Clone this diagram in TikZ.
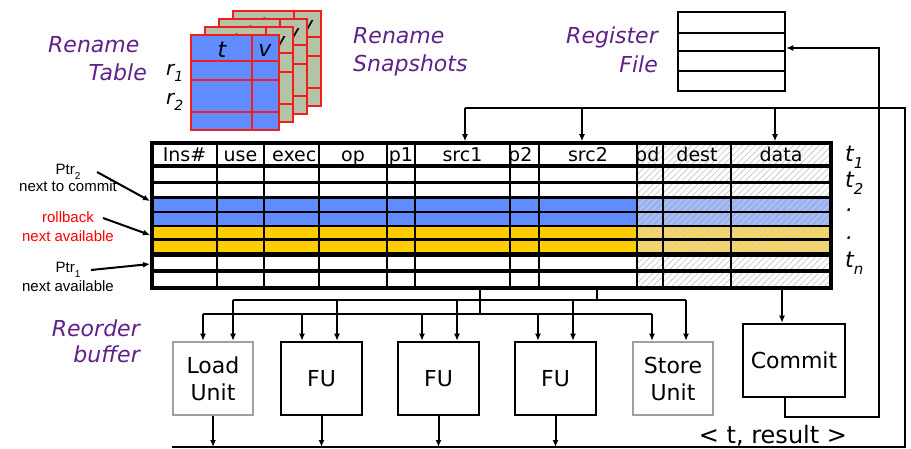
\documentclass[tikz,border=0pt]{standalone}
\usepackage{fontspec}
\setmainfont{DejaVu Sans}
\newfontfamily\arialf{Liberation Sans}
\usetikzlibrary{arrows.meta,patterns.meta,calc}
\definecolor{purp}{RGB}{96,32,140}
\definecolor{robblue}{RGB}{96,140,255}
\definecolor{robyellow}{RGB}{255,204,0}
\definecolor{hblue}{RGB}{150,178,250}
\definecolor{hyellow}{RGB}{250,214,90}
\definecolor{snapg}{RGB}{180,194,166}
\definecolor{unitgray}{RGB}{160,160,160}
\definecolor{rnred}{RGB}{240,30,30}
\newcommand{\fs}[2]{\fontsize{#1}{#2}\selectfont}
\newcommand{\sbs}[2]{\raisebox{-0.3em}{\fontsize{#1}{#1}\selectfont #2}}
\tikzset{
  conn/.style={line width=2pt},
  arr/.style={line width=2pt, -{Latex[length=7pt,width=6pt]}},
  lbl/.style={text=purp, font=\fs{22}{26}\itshape, inner sep=0},
  ital/.style={font=\fs{22}{26}\itshape, inner sep=0},
  unit/.style={draw, line width=2.5pt, minimum width=80pt, minimum height=73pt, inner sep=0, align=center, font=\fs{22}{27}},
  hd/.style={font=\fs{19}{22}, inner sep=0, anchor=base},
  ptr/.style={font=\arialf\fs{15}{18}, inner sep=0, anchor=base},
  hatch/.style={pattern={Lines[angle=45,distance=4.5pt,line width=0.8pt]}, pattern color=gray!40}
}
\begin{document}
\begin{tikzpicture}[x=1pt,y=-1pt]
\useasboundingbox (0,0) rectangle (911,449);

% ---------- labels ----------
\node[lbl, anchor=base west] (lRen1) at (48,53) {Rename};
\node[lbl, anchor=base east] (lTab) at (147,81) {Table};
\node[lbl, anchor=base west] (lRen2) at (353,44) {Rename};
\node[lbl, anchor=base west] (lSnap) at (353,72) {Snapshots};
\node[lbl, anchor=base east] (lReg) at (658,44) {Register};
\node[lbl, anchor=base east] (lFile) at (658,73) {File};
\node[lbl, anchor=base east] (lReo) at (140,336) {Reorder};
\node[lbl, anchor=base east] (lBuf) at (140,362) {buffer};

% ---------- rename table and snapshots ----------
\foreach \i/\dx/\dy/\fc in {3/42/-24/snapg, 2/28/-16/snapg, 1/14/-8/snapg, 0/0/0/robblue}{
  \begin{scope}[shift={(\dx,\dy)}]
    \fill[\fc] (191,35) rectangle (279,130);
    \node[ital] (rt\i) at (222,50) {t};
    \node[ital] (rv\i) at (265,50) {v};
    \draw[rnred, line width=1.5pt] (191,35) rectangle (279,130)
      (252,35) -- (252,130) (191,61) -- (279,61) (191,80) -- (279,80) (191,112) -- (279,112);
  \end{scope}
}
\node[ital, anchor=base west, font=\fs{20}{24}\itshape] (r1) at (166,76) {r\sbs{14}{1}};
\node[ital, anchor=base west, font=\fs{20}{24}\itshape] (r2) at (166,105) {r\sbs{14}{2}};

% ---------- register file ----------
\node[draw, line width=2.5pt, minimum width=107pt, minimum height=79pt, inner sep=0] (regfile) at (731.5,51.5) {};
\draw[line width=2.5pt] (678,33) -- (785,33) (678,51) -- (785,51) (678,71) -- (785,71);

% ---------- reorder buffer ----------
\fill[white] (152,143) rectangle (831,288);
\fill[robblue] (152,197.5) rectangle (637,226);
\fill[hblue] (637,197.5) rectangle (829,226);
\fill[robyellow] (152,226) rectangle (637,254.5);
\fill[hyellow] (637,226) rectangle (829,254.5);
\fill[hatch] (637,143) rectangle (831,288);

\node[hd] (hIns) at (184.5,162) {Ins\#};
\node[hd] (hUse) at (240.5,162) {use};
\begin{scope}\clip (264,143) rectangle (319,166);
  \node[hd, anchor=base west] (hExec) at (272,162) {exec};\end{scope}
\node[hd] (hOp) at (353,162) {op};
\node[hd] (hP1) at (401,162) {p1};
\node[hd] (hS1) at (462.5,162) {src1};
\begin{scope}\clip (510,143) rectangle (539,166);
  \node[hd, anchor=base west] (hP2) at (508,162) {p2};\end{scope}
\node[hd] (hS2) at (588,162) {src2};
\begin{scope}\clip (637,143) rectangle (663,166);
  \node[hd, anchor=base west] (hPd) at (635,162) {pd};\end{scope}
\node[hd] (hDest) at (697,162) {dest};
\node[hd] (hData) at (781,162) {data};

\foreach \x/\w in {217/2,264/2,319/2,387/2,415/1.4,510/2,539/1.4,637/2,663/1.4,731/1.4}
  \draw[line width=\w pt] (\x,143) -- (\x,288);
\foreach \y/\w in {166/3.5,182.5/3.5,197.5/3,212/2.5,226/2.5,239.5/2.5,254.5/4.5,271/4.5}
  \draw[line width=\w pt] (152,\y) -- (831,\y);
\node[draw, line width=3.5pt, minimum width=679pt, minimum height=145pt, inner sep=0] (rob) at (491.5,215.5) {};

% row labels on the right
\node[ital, anchor=base west] (t1) at (845,162) {t\sbs{15}{1}};
\node[ital, anchor=base west] (t2) at (845,188) {t\sbs{15}{2}};
\node[ital, anchor=base west] (d1) at (846,212) {.};
\node[ital, anchor=base west] (d2) at (846,240) {.};
\node[ital, anchor=base west] (tn) at (845,268) {t\sbs{15}{n}};

% pointer labels
\node[ptr] (p2a) at (68,175) {Ptr\sbs{10}{2}};
\node[ptr] (p2b) at (68,192) {next to commit};
\node[ptr, text=red] (rba) at (68,223) {rollback};
\node[ptr, text=red] (rbb) at (68,242) {next available};
\node[ptr] (p1a) at (68,273) {Ptr\sbs{10}{1}};
\node[ptr] (p1b) at (68,292) {next available};
\coordinate (pa1) at (97,172);  \coordinate (pb1) at (150,201);
\coordinate (pa2) at (103,218); \coordinate (pb2) at (150,235);
\coordinate (pa3) at (91,270);  \coordinate (pb3) at (150,264);
\draw[arr] (pa1) -- (pb1);
\draw[arr] (pa2) -- (pb2);
\draw[arr] (pa3) -- (pb3);

% ---------- units ----------
\node[unit, draw=unitgray] (load) at (213,378.5) {Load\\Unit};
\node[unit, minimum width=81pt] (fu1) at (321.5,378.5) {FU};
\node[unit, minimum width=81pt] (fu2) at (438.5,378.5) {FU};
\node[unit, minimum width=81pt] (fu3) at (555.5,378.5) {FU};
\node[unit, draw=unitgray] (store) at (673,378.5) {Store\\Unit};
\node[unit, minimum width=102pt] (commit) at (794,360.5) {Commit};

% ---------- buses below the buffer ----------
\coordinate (tb1) at (480,288);
\coordinate (tb2) at (597,288);
\coordinate (tb3) at (782,288);
\coordinate (lbL) at (203,314); \coordinate (lbR) at (652,314);
\coordinate (ubL) at (233,300); \coordinate (ubR) at (686,300);
\draw[conn] (tb1) -- (tb1 |- lbL);
\draw[conn] (tb2) -- (tb2 |- ubL);
\draw[conn] (lbL) -- (lbR);
\draw[conn] (ubL) -- (ubR);
\foreach \x/\n in {203/load,302/fu1,422/fu2,538/fu3,652/store}{
  \coordinate (tmp) at (\x,314);
  \draw[arr] (tmp) -- (tmp |- \n.north);
}
\foreach \x/\n in {233/load,337/fu1,457/fu2,573/fu3,686/store}{
  \coordinate (tmp) at (\x,300);
  \draw[arr] (tmp) -- (tmp |- \n.north);
}
\draw[arr] (tb3) -- (tb3 |- commit.north);

% ---------- result bus and write-back loops ----------
\coordinate (botL) at (172,447);
\coordinate (botR) at (905,447);
\coordinate (topR) at (905,108);
\coordinate (topL) at (465,108);
\draw[conn] (botL) -- (botR) -- (topR) -- (topL);
\foreach \x in {465,582,775}{
  \coordinate (tmp) at (\x,108);
  \draw[arr] (tmp) -- (tmp |- rob.north);
}
\foreach \n in {load,fu1,fu2,fu3}
  \draw[arr] (\n.south) -- (\n.south |- botL);

\coordinate (c1) at (879,417);
\coordinate (rfin) at (879,48);
\draw[arr] ($(commit.south)+(-9,0)$) |- (c1) -- (rfin) -- (rfin -| regfile.east);

\node[font=\fs{24}{28}, inner sep=0, anchor=base] (res) at (773,443) {<\ t, result\ >};
\end{tikzpicture}
\end{document}
